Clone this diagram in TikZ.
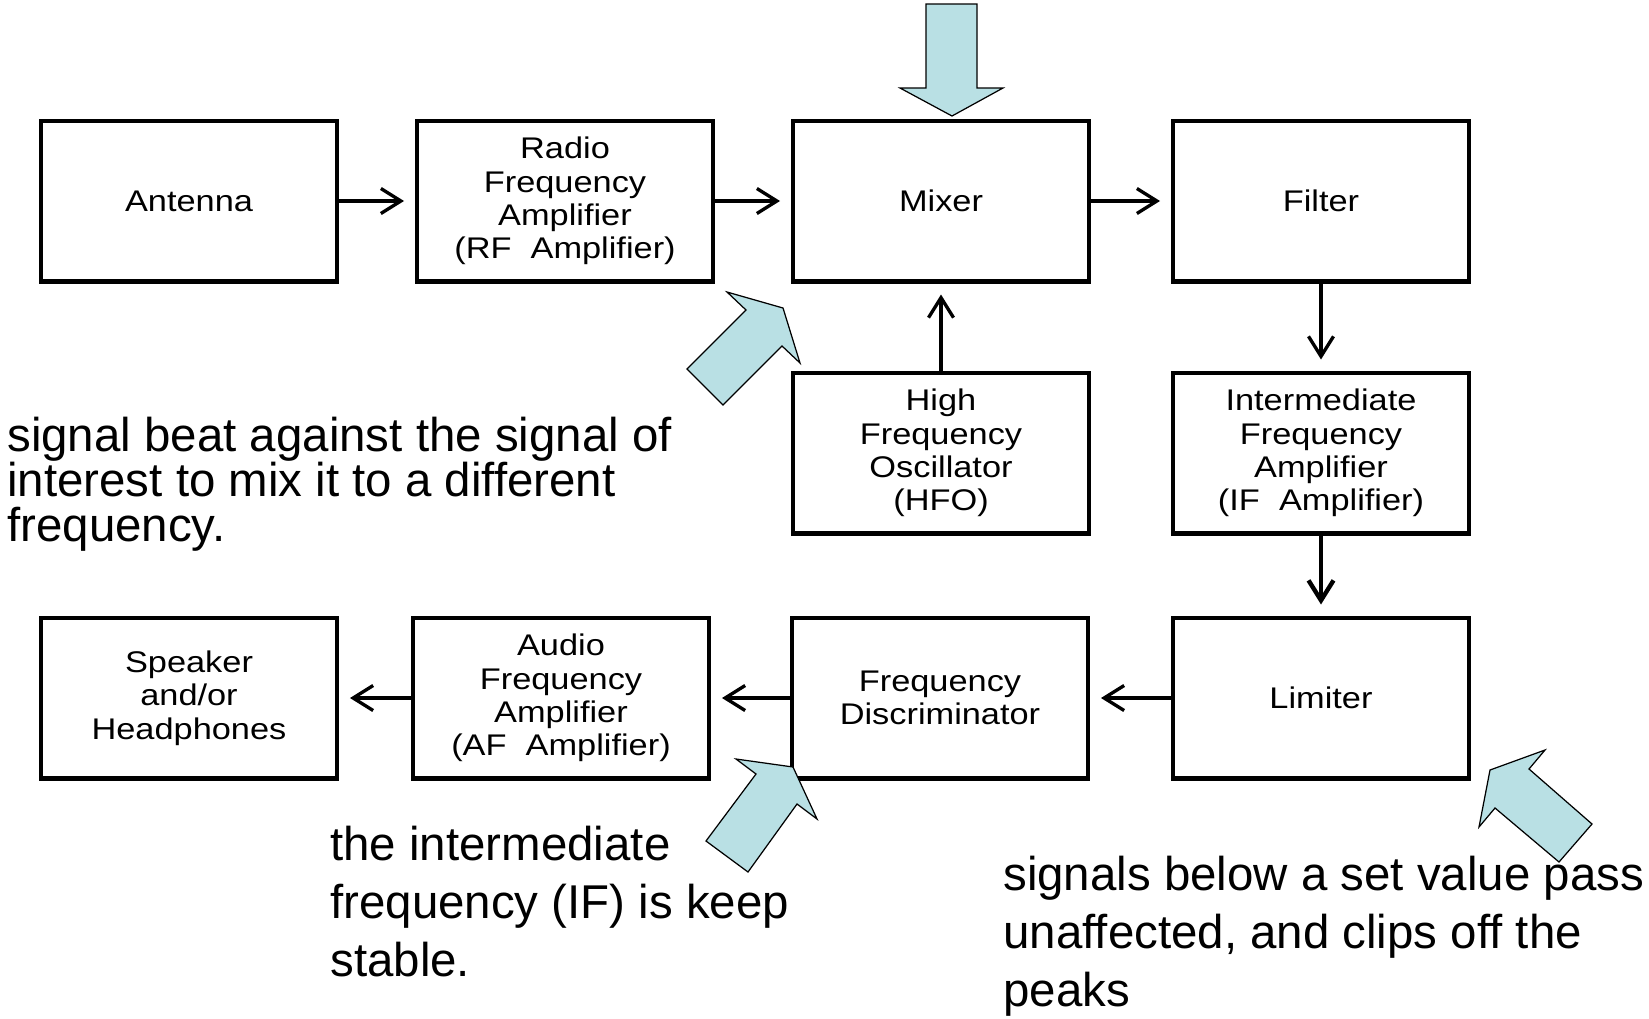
\documentclass[tikz,border=0pt]{standalone}
\usepackage{fontspec}
\usetikzlibrary{arrows.meta}
\newfontfamily\blockfont[FakeStretch=1.15]{Liberation Sans}
\newfontfamily\notefont{Liberation Sans}
\definecolor{hintfill}{RGB}{185,224,228}
\begin{document}
\begin{tikzpicture}[x=0.02cm,y=-0.02cm,
    block/.style={draw,line width=2.3pt,minimum width=5.92cm,minimum height=3.22cm,
      inner sep=0pt,align=center,font={\blockfont\fontsize{17}{19}\selectfont}},
    link/.style={line width=1.9pt,-{Straight Barb[length=0.4cm,width=0.5cm]},shorten >=0.22cm},
    hint/.style={draw,line width=0.7pt,fill=hintfill,line join=miter},
    note/.style={anchor=base west,inner sep=0pt,align=left,font={\notefont\fontsize{27}{25.6}\selectfont}}]
  \useasboundingbox (0,0) rectangle (1649,1018);
  \node[block] (ant) at (189,201) {Antenna};
  \node[block] (rfamp) at (565,201) {Radio\\Frequency\\Amplifier\\(RF~ Amplifier)};
  \node[block] (mixer) at (941,201) {Mixer};
  \node[block] (filter) at (1321,201) {Filter};
  \node[block] (hfo) at (941,453) {High\\Frequency\\Oscillator\\(HFO)};
  \node[block] (ifamp) at (1321,453) {Intermediate\\Frequency\\Amplifier\\(IF~ Amplifier)};
  \node[block] (limiter) at (1321,698) {Limiter};
  \node[block] (disc) at (940,698) {Frequency\\Discriminator};
  \node[block] (afamp) at (561,698) {Audio\\Frequency\\Amplifier\\(AF~ Amplifier)};
  \node[block] (speaker) at (189,698) {Speaker\\and/or\\Headphones};
  \draw[link] (ant) -- (rfamp);
  \draw[link] (rfamp) -- (mixer);
  \draw[link] (mixer) -- (filter);
  \draw[link] (filter) -- (ifamp);
  \draw[link,line width=2.5pt] (ifamp) -- (limiter);
  \draw[link] (hfo) -- (mixer);
  \draw[link] (limiter) -- (disc);
  \draw[link] (disc) -- (afamp);
  \draw[link] (afamp) -- (speaker);
  \draw[hint] (926,4) -- (977,4) -- (977,88) -- (1003,88) -- (952,116) -- (900,88) -- (926,88) -- cycle;
  \draw[hint] (687,369) -- (746,310) -- (727,292) -- (783,308) -- (800,363) -- (782,346) -- (723,405) -- cycle;
  \draw[hint] (706,841) -- (756,774) -- (736,759) -- (793,767) -- (817,819) -- (797,804) -- (748,872) -- cycle;
  \draw[hint] (1592,824) -- (1529,769) -- (1545,750) -- (1490,770) -- (1479,827) -- (1495,808) -- (1559,862) -- cycle;
  \node[note] (mixnote) at (7,541) {signal beat against the signal of\\interest to mix it to a different\\frequency.};
  \node[note,font={\notefont\fontsize{27}{33}\selectfont}] (discnote) at (330,976) {the intermediate\\frequency (IF) is keep\\stable.};
  \node[note,font={\notefont\fontsize{27}{33}\selectfont}] (limnote) at (1003,1006) {signals below a set value pass\\unaffected, and clips off the\\peaks};
\end{tikzpicture}
\end{document}
